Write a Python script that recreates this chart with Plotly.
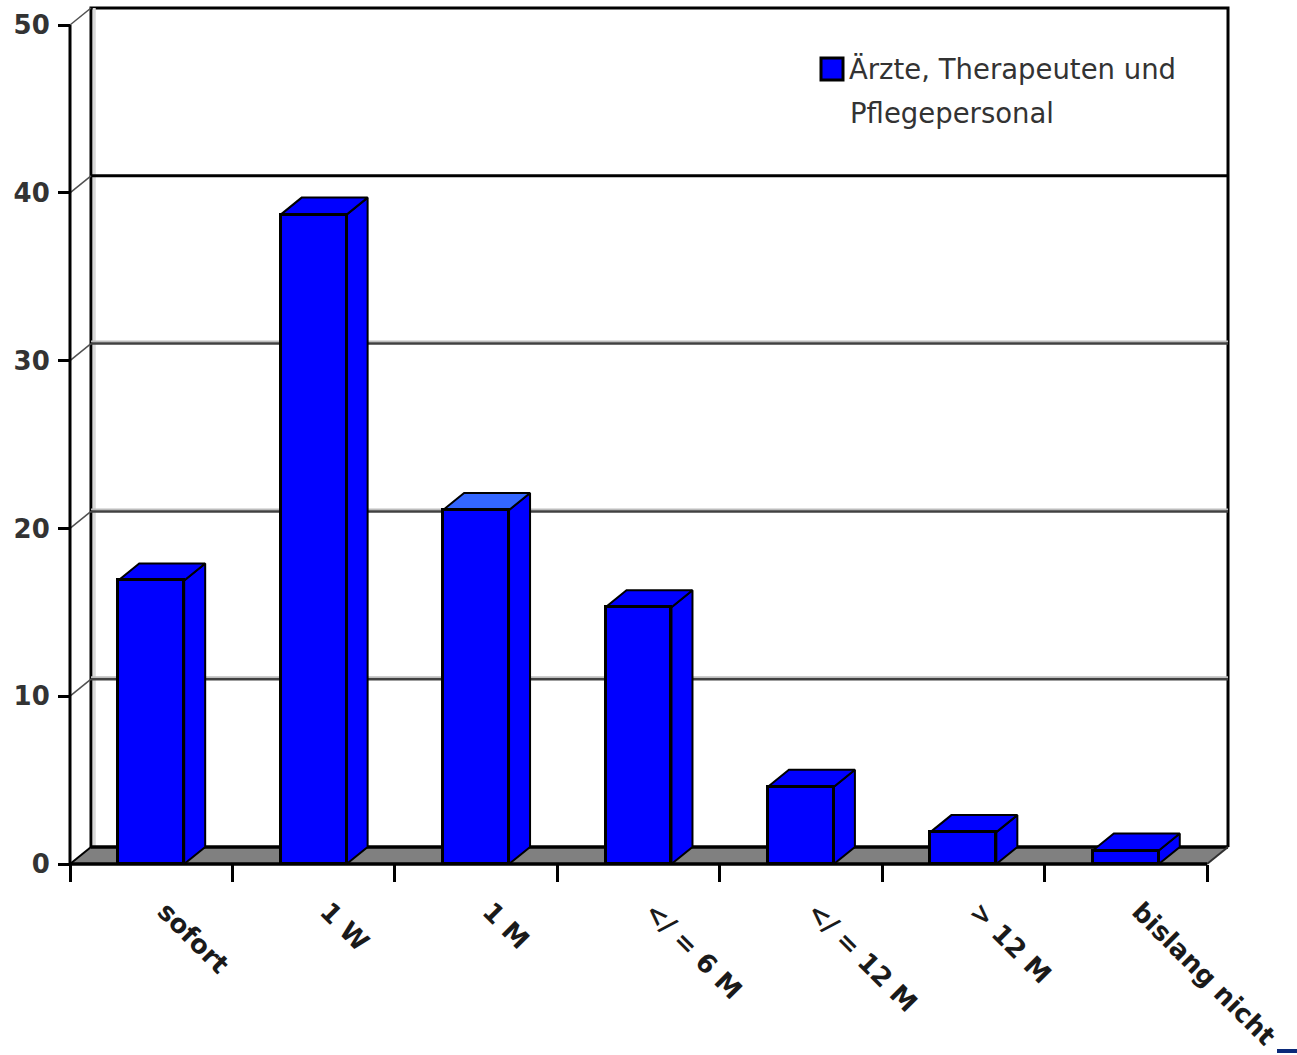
import plotly.graph_objects as go

# ---- data -------------------------------------------------------------
categories = ["sofort", "1 W", "1 M", "&lt;/ = 6 M", "&lt;/ = 12 M", "&gt; 12 M", "bislang nicht"]
values = [16.9, 38.7, 21.1, 15.3, 4.6, 1.9, 0.8]
legend_lines = ["Ärzte, Therapeuten und", "Pflegepersonal"]
y_ticks = [0, 10, 20, 30, 40, 50]

# ---- geometry / style -------------------------------------------------
W_PX, H_PX = 1297, 1055
M_L, M_R, M_T, M_B = 62, 61, 3, 183
PLOT_W = W_PX - M_L - M_R
PLOT_H = H_PX - M_T - M_B

ORIGIN_X, ORIGIN_Y = 70, 864     # pixel position of the (0, 0) corner
CAT_PX = 162.43                  # px per category
Y_UNIT = 16.78                   # px per value unit

N = len(categories)
X_RANGE = [-(ORIGIN_X - M_L) / CAT_PX, (W_PX - M_R - ORIGIN_X) / CAT_PX]
Y_RANGE = [-(H_PX - M_B - ORIGIN_Y) / Y_UNIT, (ORIGIN_Y - M_T) / Y_UNIT]

DX = 21 / CAT_PX                 # depth offset (categories)
DY = 17 / Y_UNIT                 # depth offset (value units)
BAR_W = 0.406
BLUE = "#0000ff"
TOP_COLORS = [BLUE, BLUE, "#3366ff", BLUE, BLUE, BLUE, BLUE]
FONT = "DejaVu Sans"


def px_x(p):
    return (p - M_L) / PLOT_W


def px_y(p):
    return (H_PX - M_B - p) / PLOT_H


def seg_trace(xs, ys, color, width, z=0, fill=None, fillcolor=None):
    return go.Scatter(x=xs, y=ys, mode="lines", line=dict(color=color, width=width),
                      fill=fill, fillcolor=fillcolor, hoverinfo="skip",
                      showlegend=False, zorder=z)


fig = go.Figure()

# back wall
fig.add_trace(seg_trace([DX, DX, N + DX, N + DX], [DY, 50 + DY, 50 + DY, DY],
                        "black", 3, fill="toself", fillcolor="white"))
# light strip along the left wall edge
fig.add_trace(seg_trace([DX + 0.02, DX + 0.02], [DY, 50 + DY], "#d9d9d9", 3))

# gridlines on the back wall
for v in y_ticks[1:-1]:
    if v == 40:
        fig.add_trace(seg_trace([DX, N + DX], [v + DY, v + DY], "black", 3))
    else:
        fig.add_trace(seg_trace([DX, N + DX], [v + DY + 0.12, v + DY + 0.12], "#bdbdbd", 2))
        fig.add_trace(seg_trace([DX, N + DX], [v + DY, v + DY], "#404040", 2.5))

# diagonal connectors from the front axis to the wall
for v in y_ticks[1:]:
    fig.add_trace(seg_trace([0, DX], [v, v + DY], "#505050", 1.5))

# floor
fig.add_trace(seg_trace([0, N, N + DX, DX, 0], [0, 0, DY, DY, 0], "#808080", 0.1,
                        fill="toself", fillcolor="#808080"))
fig.add_trace(seg_trace([DX, N + DX], [DY, DY], "black", 3.5))
fig.add_trace(seg_trace([0, DX], [0, DY], "black", 2))
fig.add_trace(seg_trace([N, N + DX], [0, DY], "#303030", 2))

# front axis lines
fig.add_trace(seg_trace([0, 0], [0, 50], "black", 3))
fig.add_trace(seg_trace([0, N], [0, 0], "black", 3.5))

# side and top faces of the columns
centers = [i + 0.5 for i in range(N)]
for c, v, tc in zip(centers, values, TOP_COLORS):
    x0, x1 = c - BAR_W / 2, c + BAR_W / 2
    fig.add_trace(seg_trace([x1, x1 + DX, x1 + DX, x1, x1], [0, DY, v + DY, v, 0],
                            "black", 2, z=1, fill="toself", fillcolor=BLUE))
    fig.add_trace(seg_trace([x0, x1, x1 + DX, x0 + DX, x0], [v, v, v + DY, v + DY, v],
                            "black", 2, z=1, fill="toself", fillcolor=tc))

# front faces
fig.add_trace(go.Bar(x=centers, y=values, width=BAR_W, base=0,
                     marker=dict(color=BLUE, line=dict(color="black", width=3)),
                     showlegend=False, zorder=2, hoverinfo="skip"))

fig.update_layout(
    width=W_PX, height=H_PX,
    margin=dict(l=M_L, r=M_R, t=M_T, b=M_B, pad=0),
    paper_bgcolor="white", plot_bgcolor="white",
    showlegend=False,
    bargap=0,
    xaxis=dict(range=X_RANGE, showgrid=False, zeroline=False, showline=False,
               anchor="free", position=px_y(ORIGIN_Y),
               tickvals=centers, ticktext=categories, ticks="", tickangle=45,
               tickfont=dict(family=FONT, size=26, color="#1a1a1a", weight="bold"),
               ticklabelstandoff=26, ticklabelshift=14,
               minor=dict(tickvals=list(range(N + 1)), ticks="outside", ticklen=17,
                          tickwidth=3, tickcolor="black", showgrid=False),
               fixedrange=True),
    yaxis=dict(range=Y_RANGE, showgrid=False, zeroline=False, showline=False,
               anchor="free", position=px_x(ORIGIN_X),
               tickvals=y_ticks, ticktext=[str(t) for t in y_ticks],
               ticks="outside", ticklen=12, tickwidth=3, tickcolor="black",
               tickfont=dict(family=FONT, size=26, color="#333333", weight="bold"),
               ticklabelstandoff=3, fixedrange=True),
)

# legend key
fig.add_shape(type="rect", xref="paper", yref="paper",
              x0=px_x(821), x1=px_x(843), y0=px_y(80), y1=px_y(58),
              fillcolor=BLUE, line=dict(color="black", width=3))
fig.add_annotation(text=legend_lines[0], xref="paper", yref="paper",
                   x=px_x(847), y=px_y(69), xanchor="left", yanchor="middle",
                   showarrow=False, font=dict(family=FONT, size=27.5, color="#333333"))
fig.add_annotation(text=legend_lines[1], xref="paper", yref="paper",
                   x=px_x(848), y=px_y(113), xanchor="left", yanchor="middle",
                   showarrow=False, font=dict(family=FONT, size=27.5, color="#333333"))

# small marker at the lower right edge
fig.add_shape(type="line", xref="paper", yref="paper",
              x0=px_x(1277), x1=px_x(1297), y0=px_y(1051), y1=px_y(1051),
              line=dict(color="#0b2a7a", width=4))

fig.write_html("out.html")
